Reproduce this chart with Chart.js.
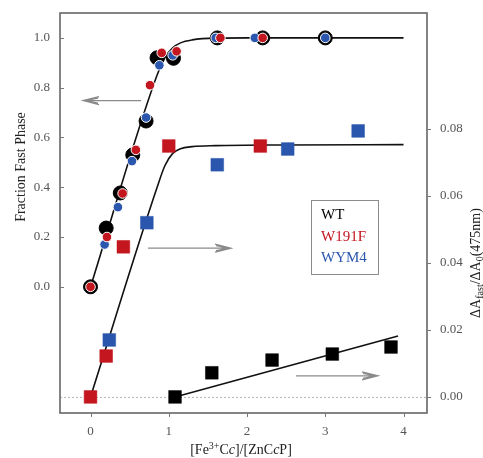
<!DOCTYPE html>
<html>
<head>
<meta charset="utf-8">
<script src="https://cdn.jsdelivr.net/npm/chart.js@4/dist/chart.umd.min.js"></script>
<style>
html, body { margin: 0; padding: 0; background: #fff; }
#wrap { width: 483px; height: 458px; position: relative; }
</style>
</head>
<body>
<div id="wrap"><canvas id="c"></canvas></div>
<script>
const seriesNames = ['WT', 'W191F', 'WYM4'];
const seriesColors = ['#000000', '#c3161f', '#2a56ad'];

// fraction fast phase (left axis) - circles
const wtFracX = [0, 0.2, 0.38, 0.54, 0.71, 0.85, 1.06, 1.62, 2.2, 3.0];
const wtFracY = [0, 0.236, 0.377, 0.53, 0.666, 0.92, 0.918, 1.0, 1.0, 1.0];
const w191fFracX = [0, 0.21, 0.41, 0.58, 0.76, 0.91, 1.1, 1.66, 2.2];
const w191fFracY = [0, 0.2, 0.375, 0.55, 0.81, 0.94, 0.946, 1.0, 1.0];
const wym4FracX = [0.18, 0.35, 0.53, 0.71, 0.88, 1.05, 1.6, 2.1, 3.0];
const wym4FracY = [0.17, 0.32, 0.505, 0.68, 0.89, 0.93, 1.0, 1.0, 1.0];

// amplitude ratio (right axis) - squares
const wtAmpX = [1.08, 1.55, 2.32, 3.09, 3.84];
const wtAmpY = [0, 0.0072, 0.011, 0.0128, 0.0149];
const w191fAmpX = [0, 0.2, 0.42, 1.0, 2.17];
const w191fAmpY = [0, 0.0122, 0.0448, 0.0749, 0.0749];
const wym4AmpX = [0.24, 0.72, 1.62, 2.52, 3.42];
const wym4AmpY = [0.017, 0.052, 0.0693, 0.074, 0.0794];

// fitted curves
const fitFracX = [0, 0.85, 0.95, 1.05, 1.15, 1.3, 1.6, 2.0, 4.0];
const fitFracY = [0, 0.85, 0.92, 0.96, 0.98, 0.992, 0.999, 1.0, 1.0];
const fitAmpX = [0, 0.85, 0.95, 1.05, 1.15, 1.3, 1.6, 2.5, 4.0];
const fitAmpY = [0, 0.0625, 0.069, 0.0727, 0.0741, 0.0747, 0.075, 0.0752, 0.0753];
const fitWtAmpX = [1.08, 3.93];
const fitWtAmpY = [0, 0.0182];

// tick labels
const xTicks = [0, 1, 2, 3, 4];
const leftTicks = [0, 0.2, 0.4, 0.6, 0.8, 1.0];
const rightTicks = [0, 0.02, 0.04, 0.06, 0.08];

const serif = "'Liberation Serif', 'Times New Roman', serif";
Chart.defaults.font.family = serif;

function pts(xs, ys) {
    return xs.map((x, i) => ({ x: x, y: ys[i] }));
}

function circles(xs, ys, color, r, border, axis, order) {
    return {
        data: pts(xs, ys), yAxisID: axis, order: order,
        backgroundColor: color, borderColor: border, borderWidth: 1,
        pointRadius: r, pointHoverRadius: r, showLine: false
    };
}

function squares(xs, ys, color, order) {
    return {
        data: pts(xs, ys), yAxisID: 'yR', order: order,
        pointStyle: 'rect', backgroundColor: color, borderColor: color, borderWidth: 0.5,
        pointRadius: 9, pointHoverRadius: 9, showLine: false
    };
}

function fitLine(xs, ys, axis) {
    return {
        data: pts(xs, ys), yAxisID: axis, order: 10,
        showLine: true, borderColor: '#111', borderWidth: 1.6, pointRadius: 0,
        cubicInterpolationMode: 'monotone', fill: false
    };
}

// annotation arrows in data units
const arrows = [
    { from: 0.645, to: -0.096, y: 0.748, axis: 'yL' },
    { from: 0.735, to: 1.796, y: 0.0444, axis: 'yR' },
    { from: 2.626, to: 3.674, y: 0.0063, axis: 'yR' }
];

function drawPieces(ctx, pieces, x, y, align) {
    let total = 0;
    pieces.forEach(p => { ctx.font = p.font; total += ctx.measureText(p.t).width; });
    let cx = align === 'center' ? x - total / 2 : x;
    pieces.forEach(p => {
        ctx.font = p.font;
        ctx.fillText(p.t, cx, y + (p.dy || 0));
        cx += ctx.measureText(p.t).width;
    });
}

// no label overhang padding: the plot box is fixed
function noPad(s) {
    s.paddingTop = 0; s.paddingBottom = 0; s.paddingLeft = 0; s.paddingRight = 0;
}

const decor = {
    id: 'decor',
    beforeDatasetsDraw(chart) {
        const { ctx, chartArea: a, scales } = chart;
        const y0 = scales.yR.getPixelForValue(0);
        ctx.save();
        ctx.strokeStyle = '#b5b5b5';
        ctx.lineWidth = 1;
        ctx.setLineDash([2, 2]);
        ctx.beginPath();
        ctx.moveTo(a.left, y0 + 0.5);
        ctx.lineTo(a.right, y0 + 0.5);
        ctx.stroke();
        ctx.restore();
    },
    afterDraw(chart) {
        const { ctx, chartArea: a, scales } = chart;
        ctx.save();
        // frame
        ctx.strokeStyle = '#666';
        ctx.lineWidth = 1.6;
        ctx.strokeRect(a.left, a.top, a.right - a.left, a.bottom - a.top);
        // tick marks
        ctx.lineWidth = 1;
        ctx.strokeStyle = '#777';
        ctx.beginPath();
        leftTicks.forEach(v => {
            const y = Math.round(scales.yL.getPixelForValue(v)) + 0.5;
            ctx.moveTo(a.left, y); ctx.lineTo(a.left + 4, y);
        });
        rightTicks.forEach(v => {
            const y = Math.round(scales.yR.getPixelForValue(v)) + 0.5;
            ctx.moveTo(a.right, y); ctx.lineTo(a.right + 4, y);
        });
        xTicks.forEach(v => {
            const x = Math.round(scales.x.getPixelForValue(v)) + 0.5;
            ctx.moveTo(x, a.bottom); ctx.lineTo(x, a.bottom + 4);
        });
        ctx.stroke();

        // arrows
        ctx.strokeStyle = '#8a8a8a';
        ctx.lineWidth = 1.2;
        arrows.forEach(ar => {
            const y = scales[ar.axis].getPixelForValue(ar.y);
            const x0 = scales.x.getPixelForValue(ar.from);
            const x1 = scales.x.getPixelForValue(ar.to);
            const dir = x1 > x0 ? 1 : -1;
            ctx.beginPath();
            ctx.moveTo(x0, y); ctx.lineTo(x1, y);
            ctx.moveTo(x1 - dir * 16, y - 4); ctx.lineTo(x1, y); ctx.lineTo(x1 - dir * 16, y + 4);
            ctx.moveTo(x1 - dir * 15, y - 2.5); ctx.lineTo(x1 - dir * 2, y);
            ctx.lineTo(x1 - dir * 15, y + 2.5);
            ctx.stroke();
        });

        // legend box
        ctx.strokeStyle = '#8c8c8c';
        ctx.lineWidth = 1;
        ctx.strokeRect(311.5, 200.5, 67, 74);
        ctx.font = '15px ' + serif;
        ctx.textAlign = 'left';
        ctx.textBaseline = 'alphabetic';
        seriesNames.forEach((n, i) => {
            ctx.fillStyle = seriesColors[i];
            ctx.fillText(n, 321, 219 + i * 21.5);
        });

        // axis titles
        ctx.fillStyle = '#222';
        const f = '14px ' + serif;
        const fs = '10px ' + serif;
        const fi = 'italic 14px ' + serif;
        ctx.textBaseline = 'alphabetic';
        drawPieces(ctx, [
            { t: '[Fe', font: f }, { t: '3+', font: fs, dy: -5 }, { t: 'C', font: f },
            { t: 'c', font: fi }, { t: ']/[ZnC', font: f }, { t: 'c', font: fi }, { t: 'P]', font: f }
        ], 241, 454, 'center');

        ctx.save();
        ctx.translate(25, 167);
        ctx.rotate(-Math.PI / 2);
        ctx.font = f;
        ctx.textAlign = 'center';
        ctx.fillText('Fraction Fast Phase', 0, 0);
        ctx.restore();

        ctx.save();
        ctx.translate(480, 263);
        ctx.rotate(-Math.PI / 2);
        ctx.textAlign = 'left';
        drawPieces(ctx, [
            { t: '\u0394A', font: f }, { t: 'fast', font: fs, dy: 3 }, { t: '/\u0394A', font: f },
            { t: '0', font: fs, dy: 3 }, { t: '(475nm)', font: f }
        ], 0, 0, 'center');
        ctx.restore();
        ctx.restore();
    }
};

const tickFont = { family: serif, size: 13 };

new Chart(document.getElementById('c'), {
    type: 'scatter',
    data: {
        datasets: [
            circles(w191fFracX, w191fFracY, seriesColors[1], 4.8, '#ffffff', 'yL', 1),
            circles(wym4FracX, wym4FracY, seriesColors[2], 4.8, '#ffffff', 'yL', 2),
            circles(wtFracX, wtFracY, seriesColors[0], 7, '#000000', 'yL', 3),
            squares(w191fAmpX, w191fAmpY, seriesColors[1], 4),
            squares(wym4AmpX, wym4AmpY, seriesColors[2], 5),
            squares(wtAmpX, wtAmpY, seriesColors[0], 6),
            fitLine(fitFracX, fitFracY, 'yL'),
            fitLine(fitAmpX, fitAmpY, 'yR'),
            fitLine(fitWtAmpX, fitWtAmpY, 'yR')
        ]
    },
    options: {
        responsive: true,
        maintainAspectRatio: false,
        animation: false,
        layout: { padding: { top: 13, left: 0, right: 0, bottom: 0 } },
        plugins: { legend: { display: false }, tooltip: { enabled: false } },
        scales: {
            x: {
                type: 'linear', min: -0.39, max: 4.3,
                afterBuildTicks: s => { s.ticks = xTicks.map(v => ({ value: v })); },
                afterFit: s => { s.height = 45; noPad(s); },
                grid: { display: false, drawTicks: false },
                border: { display: false },
                ticks: { color: '#555', font: tickFont, padding: 11, callback: v => String(v) }
            },
            yL: {
                type: 'linear', position: 'left', min: -0.507, max: 1.1,
                afterBuildTicks: s => { s.ticks = leftTicks.map(v => ({ value: v })); },
                afterFit: s => { s.width = 60; noPad(s); },
                grid: { display: false, drawTicks: false },
                border: { display: false },
                ticks: { color: '#555', font: tickFont, padding: 10, callback: v => v.toFixed(1) }
            },
            yR: {
                type: 'linear', position: 'right', min: -0.0048, max: 0.1146,
                afterBuildTicks: s => { s.ticks = rightTicks.map(v => ({ value: v })); },
                afterFit: s => { s.width = 56; noPad(s); },
                grid: { display: false, drawTicks: false },
                border: { display: false },
                ticks: { color: '#555', font: tickFont, padding: 13, callback: v => v.toFixed(2) }
            }
        }
    },
    plugins: [decor]
});
</script>
</body>
</html>
